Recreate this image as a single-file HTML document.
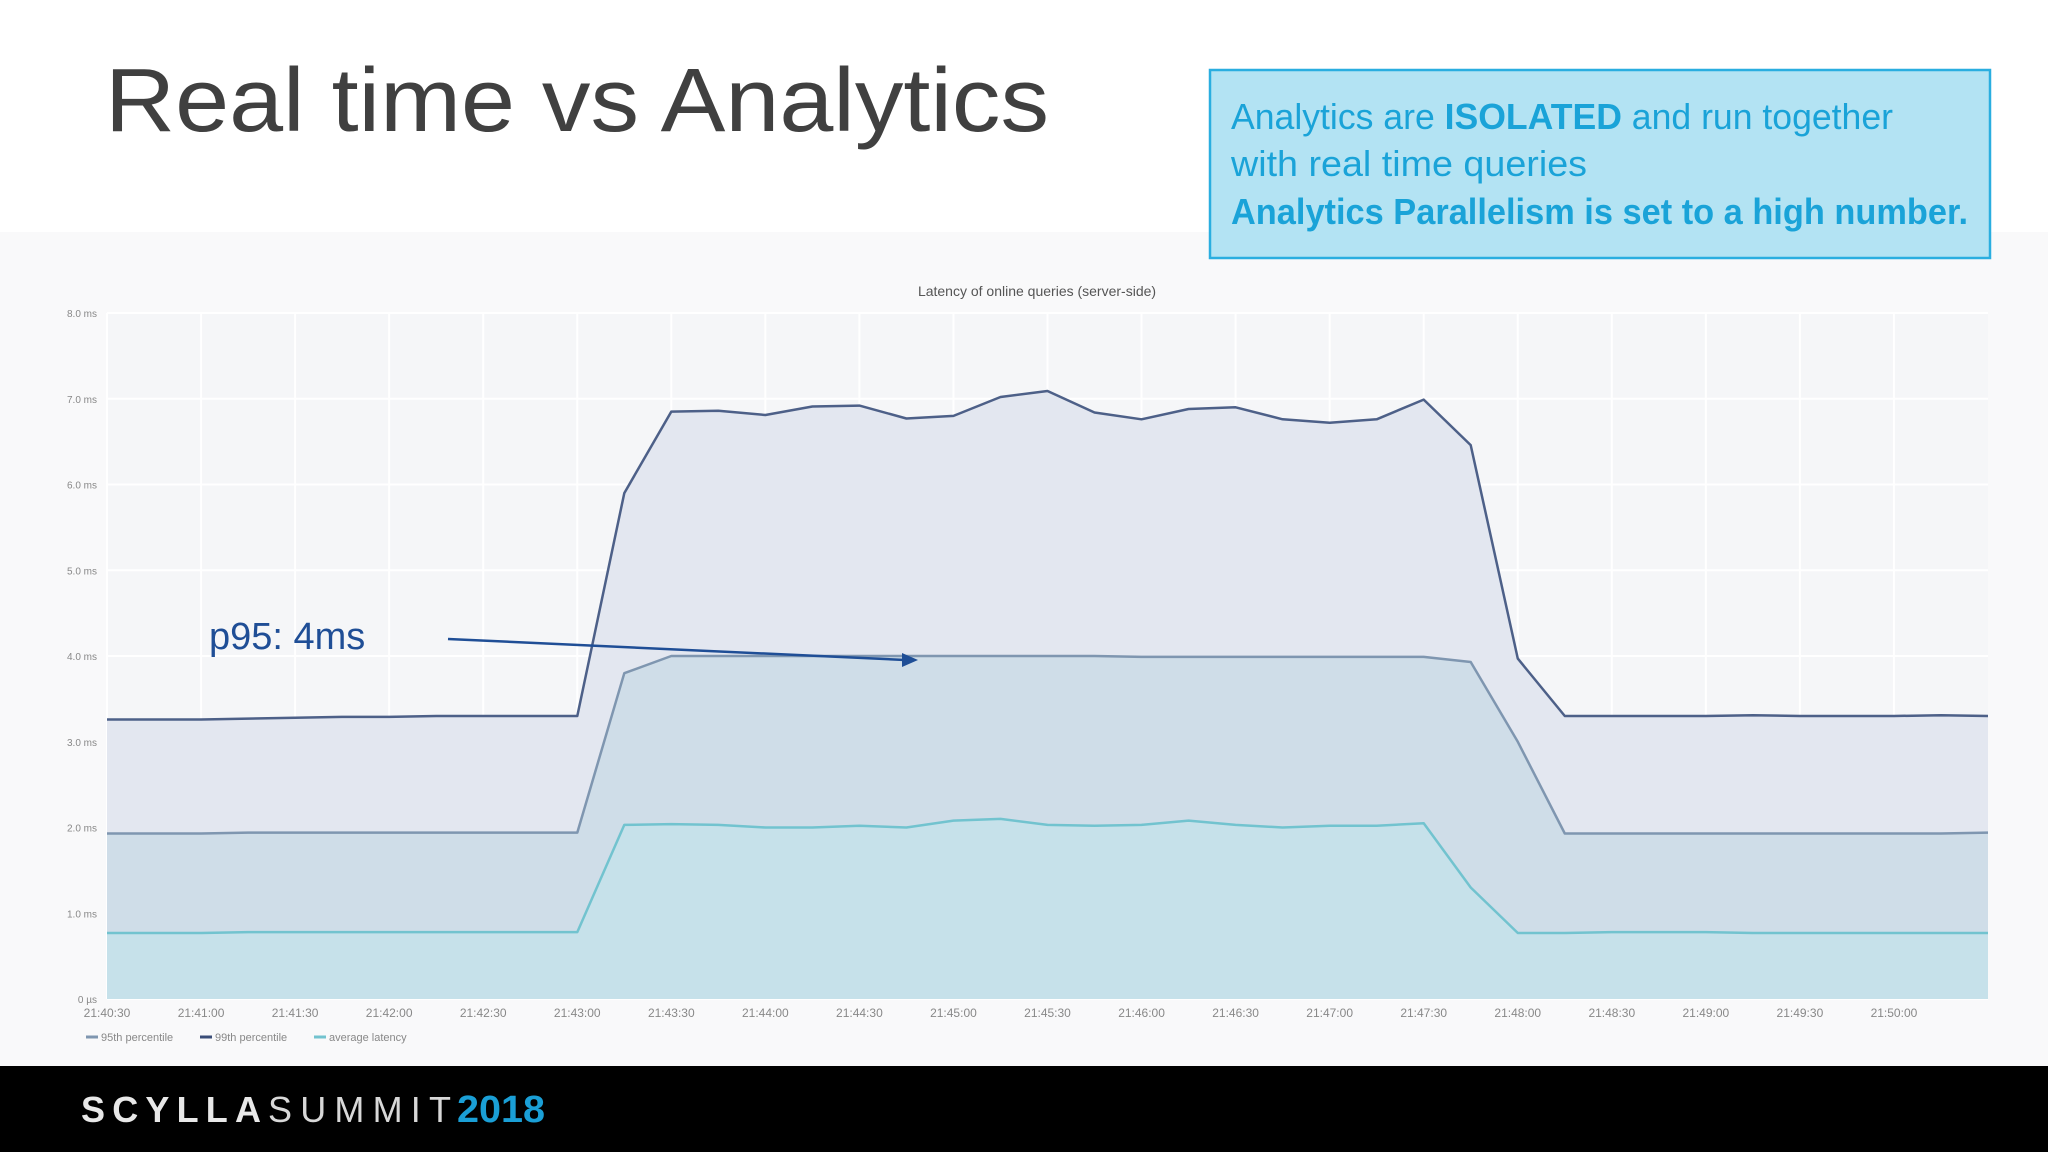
<!DOCTYPE html>
<html><head><meta charset="utf-8"><style>
html,body{margin:0;padding:0;width:2048px;height:1152px;overflow:hidden;background:#fff;font-family:"Liberation Sans",sans-serif}
</style></head><body>
<svg id="chart" width="2048" height="1152" viewBox="0 0 2048 1152" xmlns="http://www.w3.org/2000/svg" font-family="Liberation Sans, sans-serif">
<rect x="0" y="0" width="2048" height="1152" fill="#ffffff"/>
<rect x="0" y="232" width="2048" height="834" fill="#f9f9fa"/>
<text x="105" y="131" font-size="90" fill="#404040" textLength="944" lengthAdjust="spacingAndGlyphs">Real time vs Analytics</text>
<g>
<rect x="1210" y="70" width="780" height="188" fill="#b3e3f3" stroke="#2aaee0" stroke-width="2.5"/>
<text x="1231" y="129" font-size="36" fill="#1aa3d8" textLength="662" lengthAdjust="spacingAndGlyphs">Analytics are <tspan font-weight="bold">ISOLATED</tspan> and run together</text>
<text x="1231" y="176" font-size="36" fill="#1aa3d8" textLength="356" lengthAdjust="spacingAndGlyphs">with real time queries</text>
<text x="1231" y="224" font-size="36" font-weight="bold" fill="#1aa3d8" textLength="737" lengthAdjust="spacingAndGlyphs">Analytics Parallelism is set to a high number.</text>
</g>
<text x="1037" y="296" font-size="14" fill="#555" text-anchor="middle">Latency of online queries (server-side)</text>
<g id="plot"></g>
<g>
<text x="209" y="649" font-size="38" fill="#1f4e96">p95: 4ms</text>
<line x1="448" y1="639" x2="905" y2="660" stroke="#1f4e96" stroke-width="2.5"/>
<polygon points="918,660 902,653 902,667" fill="#1f4e96"/>
</g>
<rect x="0" y="1066" width="2048" height="86" fill="#000"/>
<g>
<text x="81" y="1122" font-size="36" font-weight="bold" fill="#e8e8e8" textLength="180" lengthAdjust="spacing">SCYLLA</text>
<text x="268" y="1122" font-size="36" fill="#d8d8d8" textLength="183" lengthAdjust="spacing">SUMMIT</text>
<text x="457" y="1122" font-size="38" font-weight="bold" fill="#1a9fd6" textLength="88" lengthAdjust="spacingAndGlyphs">2018</text>
</g>
</svg>
<script>
const timeLabels=["21:40:30","21:41:00","21:41:30","21:42:00","21:42:30","21:43:00","21:43:30","21:44:00","21:44:30","21:45:00","21:45:30","21:46:00","21:46:30","21:47:00","21:47:30","21:48:00","21:48:30","21:49:00","21:49:30","21:50:00"];
const yTicks=["0 µs","1.0 ms","2.0 ms","3.0 ms","4.0 ms","5.0 ms","6.0 ms","7.0 ms","8.0 ms"];
const p99=[3.26,3.26,3.26,3.27,3.28,3.29,3.29,3.3,3.3,3.3,3.3,5.9,6.85,6.86,6.81,6.91,6.92,6.77,6.8,7.02,7.09,6.84,6.76,6.88,6.9,6.76,6.72,6.76,6.99,6.46,3.97,3.3,3.3,3.3,3.3,3.31,3.3,3.3,3.3,3.31,3.3];
const p95=[1.93,1.93,1.93,1.94,1.94,1.94,1.94,1.94,1.94,1.94,1.94,3.8,4.0,4.0,4.0,4.0,4.0,4.0,4.0,4.0,4.0,4.0,3.99,3.99,3.99,3.99,3.99,3.99,3.99,3.93,3.0,1.93,1.93,1.93,1.93,1.93,1.93,1.93,1.93,1.93,1.94];
const avg=[0.77,0.77,0.77,0.78,0.78,0.78,0.78,0.78,0.78,0.78,0.78,2.03,2.04,2.03,2.0,2.0,2.02,2.0,2.08,2.1,2.03,2.02,2.03,2.08,2.03,2.0,2.02,2.02,2.05,1.3,0.77,0.77,0.78,0.78,0.78,0.77,0.77,0.77,0.77,0.77,0.77];
const X0=107,X1=1988,Y0=999,YPER=85.75;
const xPos=i=>X0+(X1-X0)*i/(p99.length-1);
const yPos=v=>Y0-v*YPER;
const NS="http://www.w3.org/2000/svg";
const plot=document.getElementById('plot');
function mk(tag,attrs){const e=document.createElementNS(NS,tag);for(const k in attrs)e.setAttribute(k,attrs[k]);plot.appendChild(e);return e;}
const bg=mk('rect',{x:X0,y:yPos(8),width:X1-X0,height:Y0-yPos(8),fill:'#f5f6f8'});


yTicks.forEach((t,i)=>{
  const g=mk('line',{x1:X0,x2:X1,y1:yPos(i),y2:yPos(i),stroke:'#ffffff','stroke-width':2});
  
  
  const l=mk('text',{x:97,y:yPos(i)+4,'font-size':10,fill:'#888','text-anchor':'end'});
  l.textContent=t;
  
  
});
timeLabels.forEach((t,i)=>{
  const x=xPos(i*2);
  const g=mk('line',{x1:x,x2:x,y1:yPos(8),y2:Y0,stroke:'#ffffff','stroke-width':2});
  
  
  const l=mk('text',{x:x,y:1017,'font-size':12,fill:'#888','text-anchor':'middle'});
  l.textContent=t;
  
  
});
function series(arr,fill,stroke,name){
  let d=arr.map((v,i)=>(i?'L':'M')+xPos(i).toFixed(1)+','+yPos(v).toFixed(1)).join('');
  const a=mk('path',{d:d+'L'+X1+','+Y0+'L'+X0+','+Y0+'Z',fill:fill});
  
  
  const l=mk('path',{d:d,fill:'none',stroke:stroke,'stroke-width':2.5,'stroke-linejoin':'round'});
  
  
}
series(p99,'#e3e7f0','#4d6088','p99');
series(p95,'#cfdde8','#7f96b0','p95');
series(avg,'#c6e1ea','#72c3cf','avg');
const legend=[["95th percentile","#7f96b0"],["99th percentile","#3a4d78"],["average latency","#72c3cf"]];
let lx=86;
legend.forEach(([t,c])=>{
  const s=mk('line',{x1:lx,x2:lx+12,y1:1037,y2:1037,stroke:c,'stroke-width':3});
  
  
  const l=mk('text',{x:lx+15,y:1041,'font-size':11,fill:'#888'});
  l.textContent=t;
  
  
  lx+=114;
});
</script>
</body></html>
